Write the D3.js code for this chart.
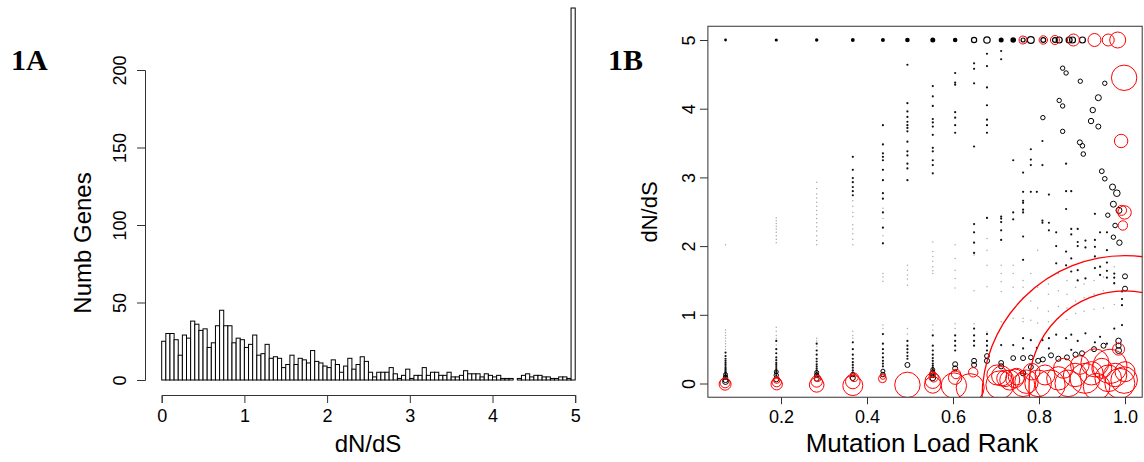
<!DOCTYPE html>
<html><head><meta charset="utf-8">
<script src="https://cdn.jsdelivr.net/npm/d3@7/dist/d3.min.js"></script>
<style>body{margin:0;background:#fff}svg{display:block}text{font-family:"Liberation Sans",Arial,sans-serif;fill:#000}</style>
</head><body><svg id="c" width="1144" height="462"></svg>
<script>
// ---------- Panel 1A: histogram of dN/dS (bin width 0.05) ----------
const histBinWidth = 0.05;
const histCounts = [
 25,30,30,26,16,29,27,38,36,32,33,21,24,35,45,35,35,24,27,26,
 21,23,29,16,17,23,14,15,14,8,10,16,10,14,13,11,19,12,11,9,
 8,13,10,5,9,14,7,10,15,12,5,2,5,5,5,8,4,1,3,7,
 1,3,3,8,3,5,5,3,3,5,2,2,3,6,4,4,4,2,4,3,
 2,3,1,1,1,0,1,3,4,2,3,3,2,2,1,1,2,2,1,240];
const histXTicks = [0,1,2,3,4,5];
const histYTicks = [0,50,100,150,200];

// ---------- Panel 1B: dN/dS vs mutation load rank ----------
const scatXTicks = [0.2,0.4,0.6,0.8,1.0];
const scatYTicks = [0,1,2,3,4,5];
// genes at dN/dS = 5 (capped): [rank, size]
const topFilled = [[0.071,1.4],[0.189,1.6],[0.283,1.7],[0.367,1.9],[0.437,2.0],[0.494,2.3],[0.553,2.5],[0.605,2.3],[0.712,2.5],[0.740,2.8]];
const topOpen = [[0.649,2.6],[0.679,3.2],[0.763,2.0],[0.781,3.4],[0.810,2.4],[0.837,2.4],[0.847,3.0],[0.870,3.0],[0.878,3.0],[0.901,3.0]];
const topRed = [[0.763,4.0],[0.810,4.2],[0.837,4.5],[0.880,6.0],[0.929,6.5],[0.961,6.0],[0.983,8.0]];
// small black genes: [rank, [dN/dS values]]
const darkDots = [
 [0.071,[0.45,0.40,0.36,0.33,0.30,0.27,0.24,0.22,0.20,0.18,0.16,0.14,0.12,0.10]],
 [0.189,[0.62,0.50,0.44,0.38,0.34,0.30,0.27,0.24,0.21,0.18,0.15,0.12]],
 [0.283,[0.58,0.48,0.42,0.36,0.32,0.28,0.25,0.22,0.19,0.16,0.13]],
 [0.367,[3.30,3.11,2.99,2.93,2.86,2.80,2.74,0.60,0.50,0.42,0.36,0.31,0.27,0.23,0.19,0.16]],
 [0.437,[3.76,3.48,3.35,3.30,3.25,3.11,2.96,2.77,2.69,2.49,2.27,2.04,0.72,0.58,0.50,0.44,0.38,0.33,0.29,0.25]],
 [0.494,[4.64,4.08,3.96,3.88,3.81,3.76,3.72,3.67,3.52,3.38,3.32,3.20,3.13,2.96,0.62,0.55,0.50,0.45,0.40,0.36]],
 [0.553,[4.33,4.18,4.04,3.85,3.80,3.74,3.62,3.43,3.38,3.25,3.18,3.06,0.70,0.55,0.48,0.42,0.37,0.33,0.29,0.26,0.23,0.20]],
 [0.605,[4.52,4.38,4.35,3.95,3.87,3.76,3.65,0.70,0.62,0.55,0.48]],
 [0.649,[4.66,4.58,4.37,3.45,2.32,2.20,2.05,1.90,0.80,0.70,0.62,0.55]],
 [0.679,[4.80,4.62,4.31,4.05,3.84,3.76,3.65,2.41,0.72,0.62,0.55,0.48]],
 [0.712,[4.84,4.72,2.43,2.40,2.35,2.23,2.09,0.56]],
 [0.740,[3.25,2.49,2.39,0.56]],
 [0.763,[3.07,2.79,2.66,2.63,2.53,2.49,2.14,1.80,0.66,0.51]],
 [0.781,[3.41,3.26,3.18,2.79,0.63]],
 [0.795,[2.79,0.52]],
 [0.808,[3.53,3.18,2.37,2.34,0.63]],
 [0.823,[2.75,2.34,2.23,0.66,0.51]],
 [0.840,[2.20,2.00,1.75,0.71]],
 [0.863,[3.20,2.80,2.54,1.92,1.72,0.66]],
 [0.875,[2.80,2.25,2.17,1.82,1.63,0.71,0.49]],
 [0.890,[2.25,2.06,2.00,1.65,1.50,0.62]],
 [0.908,[2.08,1.98,1.53,0.73]],
 [0.930,[2.47,2.09,1.99,1.85,1.68,0.60]],
 [0.942,[2.20,1.70,1.58,0.68]],
 [0.958,[2.20,1.94,1.76,1.64,1.54,0.58]],
 [0.975,[1.60,1.54,1.46,0.80]],
 [0.993,[1.34,1.23,1.14,0.85]]
];
// very small grey genes: [rank, [dN/dS values]]
const greyDots = [
 [0.071,[2.02,0.78,0.74,0.70,0.66,0.62,0.58,0.54,0.50]],
 [0.189,[2.41,2.37,2.33,2.29,2.25,2.20,2.15,2.10,2.05,0.82,0.76,0.70,0.66,0.56]],
 [0.283,[2.93,2.84,2.76,2.70,2.64,2.58,2.52,2.46,2.40,2.34,2.28,2.22,2.15,2.08,2.02,0.66,0.62,0.54]],
 [0.367,[2.66,2.58,2.49,2.43,2.31,2.25,2.18,2.10,2.02,0.76,0.70,0.66]],
 [0.437,[2.55,2.40,2.26,2.15,2.05,1.60,1.55,1.49,0.85,0.80]],
 [0.494,[1.72,1.65,1.58,1.52,1.43,0.80,0.72]],
 [0.553,[2.06,1.92,1.85,1.78,1.70,1.64,1.60,0.85,0.78]],
 [0.605,[2.02,1.82,1.65,1.53,1.39,0.87,0.80]],
 [0.649,[1.87,1.35,0.87]],
 [0.679,[2.11,1.94,1.72,1.41,0.75]],
 [0.712,[1.72,1.60,1.48,1.34,0.90]],
 [0.740,[1.72,1.60,1.40,0.95]],
 [0.763,[1.50,1.40,1.25,0.95,0.90]],
 [0.781,[1.60,1.35,1.20,0.92]],
 [0.797,[1.94,1.40,1.10,0.88]],
 [0.822,[1.45,1.30,1.05,0.90]],
 [0.845,[1.60,1.35,1.12,0.95]],
 [0.865,[1.50,1.30,1.10,0.93]],
 [0.885,[1.40,1.20,1.02]],
 [0.905,[1.45,1.25,1.05]],
 [0.928,[1.50,1.30,1.08]],
 [0.950,[1.55,1.35,1.10]],
 [0.975,[1.70,1.45,1.15]]
];
// black open circles: [rank, dN/dS, size]
const blackCircles = [
 [0.071,0.03,3],[0.071,0.05,2.5],[0.071,0.09,2.2],[0.071,0.13,2],
 [0.189,0.06,2.5],[0.189,0.12,2.2],[0.189,0.17,2],
 [0.283,0.07,2.5],[0.283,0.12,2.2],[0.283,0.16,2],
 [0.367,0.08,2.5],[0.367,0.13,2.2],
 [0.437,0.13,2.3],[0.437,0.18,2],
 [0.494,0.27,2.5],
 [0.553,0.08,2.8],[0.553,0.12,2.4],[0.553,0.16,2.2],[0.553,0.20,2],
 [0.605,0.22,2.5],[0.605,0.28,2.5],
 [0.649,0.27,2.5],[0.649,0.33,2.5],
 [0.679,0.33,2.6],[0.679,0.40,2.4],
 [0.712,0.30,2.4],[0.712,0.25,2.6],
 [0.740,0.37,2.4],
 [0.763,0.37,2.5],[0.763,0.15,2.7],
 [0.781,0.24,2.5],[0.781,0.38,2.3],
 [0.798,0.33,2.5],[0.809,0.35,2.5],[0.828,0.41,2.5],[0.845,0.36,2.6],
 [0.865,0.38,2.5],[0.885,0.42,2.6],[0.900,0.44,2.5],[0.928,0.50,2.5],
 [0.950,0.55,2.5],[0.985,0.62,2.8],[0.985,0.55,2.6],[0.985,0.48,3],
 [0.855,4.59,2.2],[0.863,4.52,2.2],[0.896,4.40,2.2],[0.953,4.37,2.2],[0.938,4.16,3],
 [0.847,4.12,2.2],[0.855,4.04,2.2],[0.925,3.98,2.7],[0.809,3.87,2.2],[0.921,3.82,2.7],
 [0.938,3.74,2.5],[0.855,3.67,2.2],[0.895,3.51,2.5],[0.901,3.46,2.3],[0.903,3.34,2.3],
 [0.946,3.09,2.4],[0.953,2.98,2.3],[0.971,2.86,3],[0.981,2.77,3.3],[0.973,2.61,3],
 [0.986,2.52,3],[0.960,2.45,2.2],[0.977,2.30,2.3],[0.973,2.13,2.2],[0.987,2.05,2.7],
 [1.0,1.56,2.5],[1.0,1.38,2.5]
];
// red open circles: [rank, dN/dS, size]
const redCircles = [
 [0.070,-0.01,6],[0.070,0.01,5],
 [0.190,-0.01,5.7],[0.190,0.02,4.7],[0.190,0.05,3.3],
 [0.283,-0.02,7.3],[0.283,0.03,5.7],[0.285,0.075,3.3],
 [0.367,-0.03,10],[0.367,0.03,7.3],[0.370,0.09,4.3],
 [0.436,0.07,4],[0.437,0.10,2.7],
 [0.494,-0.02,12.7],
 [0.553,0.04,7.7],[0.553,-0.02,8.3],[0.555,0.09,4.7],[0.552,0.138,3],
 [0.602,-0.03,12.7],[0.605,0.085,6.7],[0.607,0.138,4.7],
 [0.647,0.163,4.7],[0.640,-0.06,14],
 [0.713,0.11,10],[0.709,-0.02,14],[0.732,0.05,10],[0.748,0.10,8.3],[0.763,-0.02,11.7],
 [0.702,0.124,10],[0.721,0.075,8.3],[0.744,0.075,9.3],[0.771,0.026,11.7],[0.783,0.172,8.3],
 [0.798,0.002,13.3],[0.814,0.124,10],[0.826,-0.022,15],[0.845,0.075,11.7],[0.857,0.221,10],
 [0.868,0.002,13.3],[0.884,0.124,11.7],[0.895,0.269,9.3],[0.907,0.075,15],[0.922,0.148,11.7],
 [0.934,-0.046,13.3],[0.946,0.221,10],[0.961,0.075,13.3],[0.977,0.124,11.7],[0.988,0.002,15],
 [0.998,0.05,13.3],[1.0,0.172,10],[0.985,0.50,6],[0.965,0.25,17],[0.930,0.30,14],
 [0.998,4.45,12.7],[0.991,3.53,6.7],[0.999,2.49,6.7],[0.992,2.52,5],[0.995,2.30,4.7],
 [1.0,-0.22,143],[1.0,-0.05,96]
];

const svg = d3.select("#c");
const axisCol = "#333";

// ===== Panel A =====
const xA = d3.scaleLinear().domain([0,5]).range([161.7,575.2]);
const yA = d3.scaleLinear().domain([0,200]).range([380,70]);
const gA = svg.append("g");
gA.selectAll("rect.bar").data(histCounts).join("rect")
  .attr("x",(d,i)=>xA(i*histBinWidth))
  .attr("width",(d,i)=>xA((i+1)*histBinWidth)-xA(i*histBinWidth))
  .attr("y",d=>yA(d)).attr("height",d=>yA(0)-yA(d))
  .attr("fill","#fff").attr("stroke","#000").attr("stroke-width",1);

const axAy = gA.append("g").attr("transform","translate(145,0)")
  .call(d3.axisLeft(yA).tickValues(histYTicks).tickFormat(d3.format("d")).tickSizeOuter(0).tickSize(8).tickPadding(0));
axAy.selectAll("text").attr("transform","rotate(-90)").attr("x",0).attr("y",-25.5)
  .attr("dy","0.35em").attr("text-anchor","middle").style("font-size","18px");
const axAx = gA.append("g").attr("transform","translate(0,395)")
  .call(d3.axisBottom(xA).tickValues(histXTicks).tickFormat(d3.format("d")).tickSizeOuter(0).tickSize(8).tickPadding(6));
axAx.selectAll("text").style("font-size","18px");
[axAy,axAx].forEach(a=>{a.selectAll("path,line").attr("stroke",axisCol);a.select(".domain").attr("stroke",axisCol);a.attr("font-family",null);});
gA.append("text").attr("transform","translate(91,243) rotate(-90)").attr("text-anchor","middle")
  .style("font-size","24px").text("Numb Genes");
gA.append("text").attr("x",368).attr("y",452).attr("text-anchor","middle").style("font-size","24px").text("dN/dS");
svg.append("text").attr("x",11).attr("y",70).style("font-family","'Liberation Serif',serif")
  .style("font-weight","bold").style("font-size","30px").text("1A");

// ===== Panel B =====
const xB = d3.scaleLinear().domain([0,1]).range([695,1125]);
const yB = d3.scaleLinear().domain([0,5]).range([383.5,40]);
const rB = d3.scaleLinear().domain([0,100]).range([0,100]);
const bx0 = xB(0.03), bx1 = xB(1.04), by0 = yB(5.2), by1 = yB(-0.2);
svg.append("clipPath").attr("id","clipB").append("rect")
  .attr("x",bx0).attr("y",by0).attr("width",bx1-bx0).attr("height",by1-by0);
const gB = svg.append("g").attr("clip-path","url(#clipB)");

const flat = arr => arr.flatMap(([r,ys]) => ys.map(y=>[r,y]));
gB.selectAll("circle.grey").data(flat(greyDots)).join("circle")
  .attr("cx",d=>xB(d[0])).attr("cy",d=>yB(d[1])).attr("r",rB(0.75)).attr("fill","#aaa");
gB.selectAll("circle.dark").data(flat(darkDots)).join("circle")
  .attr("cx",d=>xB(d[0])).attr("cy",d=>yB(d[1])).attr("r",rB(1.1)).attr("fill","#111");
gB.selectAll("circle.topf").data(topFilled).join("circle")
  .attr("cx",d=>xB(d[0])).attr("cy",yB(5)).attr("r",d=>rB(d[1])).attr("fill","#000");
gB.selectAll("circle.topo").data(topOpen).join("circle")
  .attr("cx",d=>xB(d[0])).attr("cy",yB(5)).attr("r",d=>rB(d[1])).attr("fill","none").attr("stroke","#000").attr("stroke-width",1.2);
gB.selectAll("circle.bc").data(blackCircles).join("circle")
  .attr("cx",d=>xB(d[0])).attr("cy",d=>yB(d[1])).attr("r",d=>rB(d[2])).attr("fill","none").attr("stroke","#000").attr("stroke-width",1);
gB.selectAll("circle.topr").data(topRed).join("circle")
  .attr("cx",d=>xB(d[0])).attr("cy",yB(5)).attr("r",d=>rB(d[1])).attr("fill","none").attr("stroke","#f00").attr("stroke-width",1);
gB.selectAll("circle.rc").data(redCircles).join("circle")
  .attr("cx",d=>xB(d[0])).attr("cy",d=>yB(d[1])).attr("r",d=>rB(d[2])).attr("fill","none").attr("stroke","#f00")
  .attr("stroke-width",d=>d[2]>50?1.3:1);

svg.append("rect").attr("x",bx0).attr("y",by0).attr("width",bx1-bx0).attr("height",by1-by0)
  .attr("fill","none").attr("stroke",axisCol).attr("stroke-width",1);
const axBy = svg.append("g").attr("transform",`translate(${bx0},0)`)
  .call(d3.axisLeft(yB).tickValues(scatYTicks).tickFormat(d3.format("d")).tickSizeOuter(0).tickSize(8).tickPadding(0));
axBy.select(".domain").remove();
axBy.selectAll("text").attr("transform","rotate(-90)").attr("x",0).attr("y",-19)
  .attr("dy","0.35em").attr("text-anchor","middle").style("font-size","18px");
const axBx = svg.append("g").attr("transform",`translate(0,${by1})`)
  .call(d3.axisBottom(xB).tickValues(scatXTicks).tickFormat(d3.format(".1f")).tickSizeOuter(0).tickSize(7).tickPadding(6));
axBx.select(".domain").remove();
axBx.selectAll("text").style("font-size","18px");
[axBy,axBx].forEach(a=>{a.selectAll("line").attr("stroke",axisCol);a.attr("font-family",null);});
svg.append("text").attr("transform","translate(657,212) rotate(-90)").attr("text-anchor","middle")
  .style("font-size","22px").text("dN/dS");
svg.append("text").attr("x",922).attr("y",452).attr("text-anchor","middle").style("font-size","26px").text("Mutation Load Rank");
svg.append("text").attr("x",608).attr("y",70).style("font-family","'Liberation Serif',serif")
  .style("font-weight","bold").style("font-size","30px").text("1B");
</script></body></html>
